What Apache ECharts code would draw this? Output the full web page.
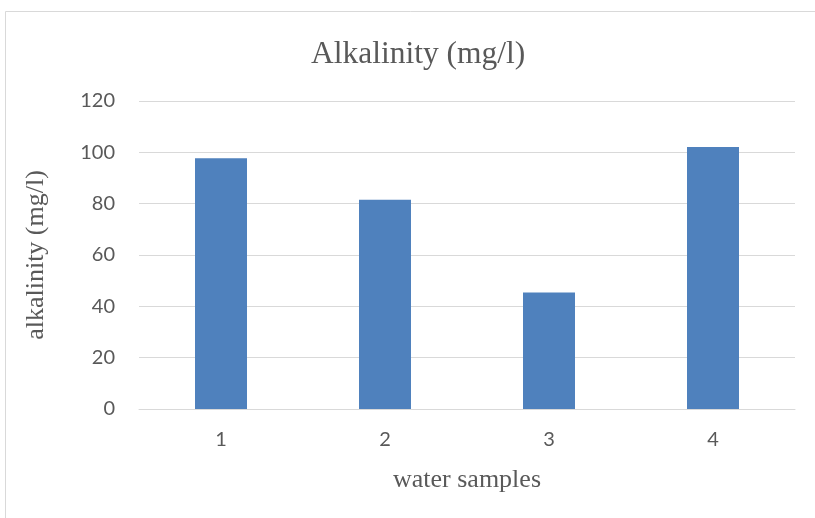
<!DOCTYPE html>
<html>
<head>
<meta charset="utf-8">
<script src="https://cdn.jsdelivr.net/npm/echarts@6/dist/echarts.min.js"></script>
<style>
  html, body { margin: 0; padding: 0; background: #fff; }
  #chart { width: 815px; height: 518px; }
</style>
</head>
<body>
<div id="chart"></div>
<script>
// Alkalinity measured in each water sample
const samples = ['1', '2', '3', '4'];
const alkalinity = [97.7, 81.5, 45.4, 102.1];
const yTicks = { min: 0, max: 120, step: 20 };

const serif = '"Liberation Serif", "Times New Roman", serif';
const sans = 'Lato, "Open Sans", sans-serif';
const textGray = '#595959';
const gridGray = '#d9d9d9';

const chart = echarts.init(document.getElementById('chart'), null, { renderer: 'canvas' });
chart.setOption({
  animation: false,
  backgroundColor: '#ffffff',
  graphic: [{
    type: 'rect',
    shape: { x: 5.5, y: 11.5, width: 900, height: 600 },
    style: { fill: 'none', stroke: gridGray, lineWidth: 1 },
    silent: true
  }],
  title: {
    text: 'Alkalinity (mg/l)',
    left: 306,
    top: 34,
    textStyle: { fontFamily: serif, fontSize: 31.5, fontWeight: 'normal', color: textGray }
  },
  grid: { left: 139, right: 20, top: 101, bottom: 109 },
  xAxis: {
    type: 'category',
    data: samples,
    name: 'water samples',
    nameLocation: 'middle',
    nameGap: 58,
    nameTextStyle: { fontFamily: serif, fontSize: 26, color: textGray },
    axisLine: { show: true, lineStyle: { color: gridGray, width: 1 } },
    axisTick: { show: false },
    axisLabel: { fontFamily: sans, fontSize: 20, color: textGray, margin: 21 }
  },
  yAxis: {
    type: 'value',
    min: yTicks.min,
    max: yTicks.max,
    interval: yTicks.step,
    name: 'alkalinity (mg/l)',
    nameLocation: 'middle',
    nameGap: 90,
    nameTextStyle: { fontFamily: serif, fontSize: 26, color: textGray },
    axisLine: { show: false },
    axisTick: { show: false },
    axisLabel: { fontFamily: sans, fontSize: 20, color: textGray, margin: 24 },
    splitLine: { show: true, lineStyle: { color: gridGray, width: 1 } }
  },
  series: [{
    type: 'bar',
    data: alkalinity,
    barWidth: 52,
    itemStyle: { color: '#4f81bd' }
  }]
});
</script>
</body>
</html>
